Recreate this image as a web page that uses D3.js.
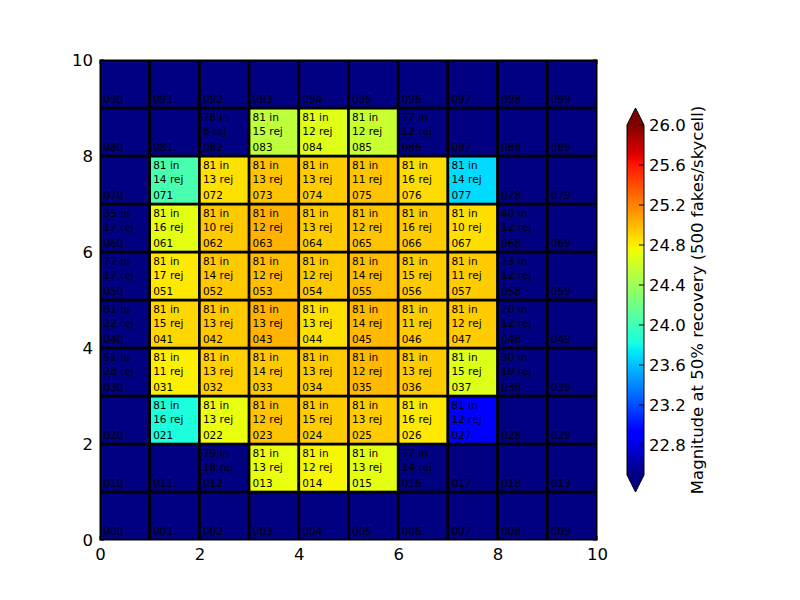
<!DOCTYPE html>
<html>
<head>
<meta charset="utf-8">
<script src="https://cdn.jsdelivr.net/npm/d3@7"></script>
<style>
  body { margin: 0; background: #fff; }
  text { font-family: "DejaVu Sans", sans-serif; }
</style>
</head>
<body>
<div id="chart"></div>
<script>
"use strict";

// magnitude at 50% recovery, one array per row (row 0 = bottom), null = masked / under range
var magnitude = [
  [null, null, null, null, null, null, null, null, null, null],
  [null, null, null, 24.72, 24.77, 24.70, null, null, null, null],
  [null, 23.84, 24.72, 24.96, 24.93, 24.93, 24.82, 22.92, null, null],
  [null, 24.80, 24.91, 24.94, 24.94, 25.00, 24.93, 24.67, null, null],
  [null, 24.89, 24.94, 25.02, 24.85, 25.00, 24.93, 24.93, null, null],
  [null, 24.82, 24.94, 24.98, 24.94, 24.98, 24.93, 24.93, null, null],
  [null, 24.70, 24.94, 25.02, 24.93, 24.96, 24.93, 24.86, null, null],
  [null, 24.03, 24.85, 24.96, 24.93, 24.96, 24.87, 23.69, null, null],
  [null, null, null, 24.53, 24.68, 24.57, null, null, null, null],
  [null, null, null, null, null, null, null, null, null, null]
];

// fakes in / rejected per cell
var nIn = [
  [null, null, null, null, null, null, null, null, null, null],
  [null, null, 79, 81, 81, 81, 77, null, null, null],
  [null, 81, 81, 81, 81, 81, 81, 81, null, null],
  [51, 81, 81, 81, 81, 81, 81, 81, 30, null],
  [81, 81, 81, 81, 81, 81, 81, 81, 70, null],
  [77, 81, 81, 81, 81, 81, 81, 81, 73, null],
  [35, 81, 81, 81, 81, 81, 81, 81, 40, null],
  [null, 81, 81, 81, 81, 81, 81, 81, null, null],
  [null, null, 78, 81, 81, 81, 77, null, null, null],
  [null, null, null, null, null, null, null, null, null, null]
];
var nRej = [
  [null, null, null, null, null, null, null, null, null, null],
  [null, null, 18, 13, 12, 13, 14, null, null, null],
  [null, 16, 13, 12, 15, 13, 16, 12, null, null],
  [28, 11, 13, 14, 13, 12, 13, 15, 10, null],
  [22, 15, 13, 13, 13, 14, 11, 12, 12, null],
  [17, 17, 14, 12, 12, 14, 15, 11, 12, null],
  [17, 16, 10, 12, 13, 12, 16, 10, 12, null],
  [null, 14, 13, 13, 13, 11, 16, 14, null, null],
  [null, null, 8, 15, 12, 12, 12, null, null, null],
  [null, null, null, null, null, null, null, null, null, null]
];

var axisTicks = [0, 2, 4, 6, 8, 10];
var cbarTicks = ["22.8", "23.2", "23.6", "24.0", "24.4", "24.8", "25.2", "25.6", "26.0"];
var vmin = 22.5, vmax = 26.0;
var cbarLabel = "Magnitude at 50% recovery (500 fakes/skycell)";

// matplotlib jet
var jetR = [[0, 0], [0.35, 0], [0.66, 1], [0.89, 1], [1, 0.5]];
var jetG = [[0, 0], [0.125, 0], [0.375, 1], [0.64, 1], [0.91, 0], [1, 0]];
var jetB = [[0, 0.5], [0.11, 1], [0.34, 1], [0.65, 0], [1, 0]];
function seg(pts, t) {
  for (var i = 1; i < pts.length; i++) {
    if (t <= pts[i][0]) {
      var a = pts[i - 1], b = pts[i];
      return a[1] + (b[1] - a[1]) * (t - a[0]) / (b[0] - a[0]);
    }
  }
  return pts[pts.length - 1][1];
}
function jet(t) {
  t = Math.max(0, Math.min(1, t));
  return d3.rgb(seg(jetR, t) * 255, seg(jetG, t) * 255, seg(jetB, t) * 255).toString();
}
var norm = d3.scaleLinear().domain([vmin, vmax]).range([0, 1]);

var svg = d3.select("#chart").append("svg")
  .attr("width", 800).attr("height", 600);

var x = d3.scaleLinear().domain([0, 10]).range([100, 597]);
var y = d3.scaleLinear().domain([0, 10]).range([540, 60]);

svg.append("clipPath").attr("id", "clip")
  .append("rect").attr("x", 100).attr("y", 60).attr("width", 497).attr("height", 480);

// flatten rows into cells
var cells = [];
magnitude.forEach(function (row, r) {
  row.forEach(function (m, c) {
    cells.push({ r: r, c: c, m: m, nin: nIn[r][c], nrej: nRej[r][c], id: "0" + r + c });
  });
});

var plot = svg.append("g").attr("clip-path", "url(#clip)");
plot.selectAll("rect.cell")
  .data(cells)
  .enter()
  .append("rect")
  .attr("class", "cell")
  .attr("x", function (d) { return x(d.c); })
  .attr("y", function (d) { return y(d.r + 1); })
  .attr("width", function (d) { return x(d.c + 1) - x(d.c); })
  .attr("height", function (d) { return y(d.r) - y(d.r + 1); })
  .attr("fill", function (d) { return d.m == null ? jet(0) : jet(norm(d.m)); })
  .attr("stroke", "#000")
  .attr("stroke-width", 2.6);

var labels = svg.append("g").attr("font-size", 10.5).attr("fill", "#000");
labels.selectAll("text.id")
  .data(cells)
  .enter()
  .append("text")
  .attr("x", function (d) { return x(d.c) + 3.5; })
  .attr("y", function (d) { return y(d.r) - 5; })
  .text(function (d) { return d.id; });
labels.selectAll("text.inrej")
  .data(cells.filter(function (d) { return d.nin != null; }))
  .enter()
  .append("text")
  .attr("x", function (d) { return x(d.c) + 3.5; })
  .attr("y", function (d) { return y(d.r + 1) + 13; })
  .each(function (d) {
    var t = d3.select(this);
    t.append("tspan").text(d.nin + " in");
    t.append("tspan").attr("x", x(d.c) + 3.5).attr("dy", 14).text(d.nrej + " rej");
  });

// frame
svg.append("rect")
  .attr("x", 100).attr("y", 60).attr("width", 497).attr("height", 480)
  .attr("fill", "none").attr("stroke", "#000").attr("stroke-width", 1);

// axes
var xAxis = d3.axisBottom(x).tickValues(axisTicks).tickSize(0).tickPadding(8);
var yAxis = d3.axisLeft(y).tickValues(axisTicks).tickSize(0).tickPadding(7);
svg.append("g").attr("transform", "translate(0,540)").call(xAxis)
  .call(function (g) { g.select(".domain").remove(); })
  .selectAll("text").attr("font-size", 16.5).attr("fill", "#000");
svg.append("g").attr("transform", "translate(100,0)").call(yAxis)
  .call(function (g) { g.select(".domain").remove(); })
  .selectAll("text").attr("font-size", 16.5).attr("fill", "#000").attr("dy", "0.36em");

// inward tick marks on all four sides
var tk = svg.append("g").attr("stroke", "#000").attr("stroke-width", 1);
axisTicks.forEach(function (v) {
  tk.append("line").attr("x1", x(v)).attr("x2", x(v)).attr("y1", 540).attr("y2", 536);
  tk.append("line").attr("x1", x(v)).attr("x2", x(v)).attr("y1", 60).attr("y2", 64);
  tk.append("line").attr("y1", y(v)).attr("y2", y(v)).attr("x1", 100).attr("x2", 104);
  tk.append("line").attr("y1", y(v)).attr("y2", y(v)).attr("x1", 597).attr("x2", 593);
});

// colorbar
var cb = d3.scaleLinear().domain([vmin, vmax]).range([475, 125]);
var cbX0 = 627, cbX1 = 644, cbMid = (cbX0 + cbX1) / 2;
var grad = svg.append("defs").append("linearGradient")
  .attr("id", "jetgrad").attr("x1", 0).attr("y1", 1).attr("x2", 0).attr("y2", 0);
d3.range(0, 1.0001, 1 / 64).forEach(function (t) {
  grad.append("stop").attr("offset", t).attr("stop-color", jet(t));
});
svg.append("path")
  .attr("d", "M" + cbX0 + "," + cb(vmax) + "L" + cbMid + ",108L" + cbX1 + "," + cb(vmax) + "Z")
  .attr("fill", jet(1));
svg.append("path")
  .attr("d", "M" + cbX0 + "," + cb(vmin) + "L" + cbMid + ",492L" + cbX1 + "," + cb(vmin) + "Z")
  .attr("fill", jet(0));
svg.append("rect")
  .attr("x", cbX0).attr("y", cb(vmax)).attr("width", cbX1 - cbX0).attr("height", cb(vmin) - cb(vmax))
  .attr("fill", "url(#jetgrad)");
svg.append("path")
  .attr("d", "M" + cbX0 + "," + cb(vmax) + "L" + cbMid + ",108L" + cbX1 + "," + cb(vmax) +
             "L" + cbX1 + "," + cb(vmin) + "L" + cbMid + ",492L" + cbX0 + "," + cb(vmin) + "Z")
  .attr("fill", "none").attr("stroke", "#000").attr("stroke-width", 1);

var cbg = svg.append("g");
cbg.selectAll("line")
  .data(cbarTicks)
  .enter()
  .append("line")
  .attr("x1", cbX1 - 5).attr("x2", cbX1)
  .attr("y1", function (d) { return cb(+d); })
  .attr("y2", function (d) { return cb(+d); })
  .attr("stroke", "#000");
cbg.selectAll("text")
  .data(cbarTicks)
  .enter()
  .append("text")
  .attr("x", 649)
  .attr("y", function (d) { return cb(+d); })
  .attr("dy", "0.36em")
  .attr("font-size", 16.5)
  .text(function (d) { return d; });

svg.append("text")
  .attr("transform", "translate(703,300) rotate(-90)")
  .attr("text-anchor", "middle")
  .attr("font-size", 16.5)
  .text(cbarLabel);
</script>
</body>
</html>
